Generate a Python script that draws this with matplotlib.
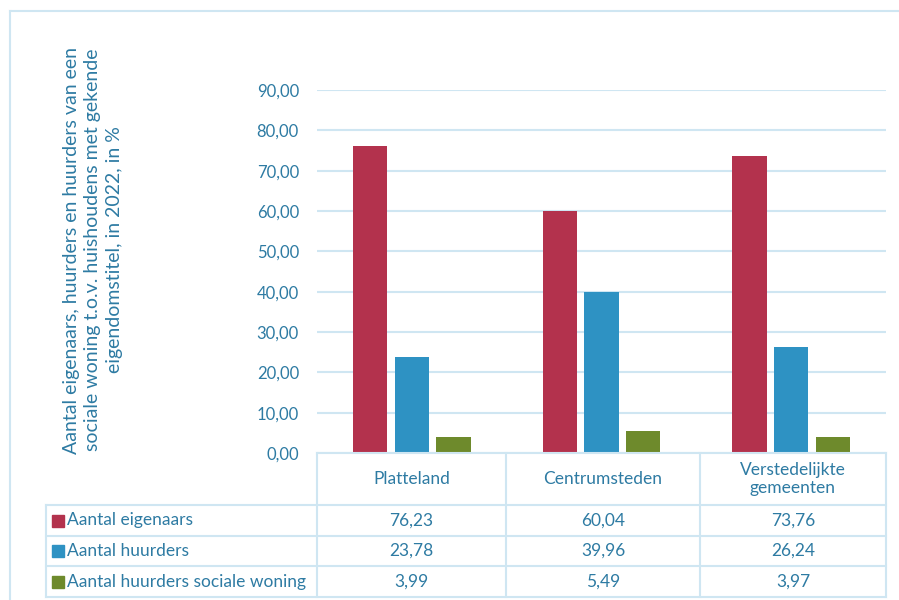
import matplotlib
matplotlib.use("Agg")
import matplotlib.pyplot as plt
from matplotlib.patches import Rectangle
from matplotlib.lines import Line2D

categories = ["Platteland", "Centrumsteden", "Verstedelijkte\ngemeenten"]
series_names = ["Aantal eigenaars", "Aantal huurders", "Aantal huurders sociale woning"]
eigenaars = [76.23, 60.04, 73.76]
huurders = [23.78, 39.96, 26.24]
sociale = [3.99, 5.49, 3.97]
yticks = [0, 10, 20, 30, 40, 50, 60, 70, 80, 90]
ylabel = "Aantal eigenaars, huurders en huurders van een\nsociale woning t.o.v. huishoudens met gekende\neigendomstitel, in 2022, in %"

colors = ["#B3324D", "#2E92C3", "#6E8A2C"]
text_col = "#2E7BA3"
grid_col = "#CFE6F2"
font = ["Lato", "DejaVu Sans"]
plt.rcParams["font.family"] = font

W, H = 899, 600
fig = plt.figure(figsize=(W / 100, H / 100), dpi=100)

def fx(x):
    return x / W

def fy(y):
    return 1 - y / H

# outer frame
fig.add_artist(Line2D([fx(10), fx(10)], [fy(11), fy(600)], color=grid_col, lw=1.5))
fig.add_artist(Line2D([fx(10), fx(899)], [fy(11), fy(11)], color=grid_col, lw=1.5))

L, R, T, B = 317, 886, 90, 453
ax = fig.add_axes([fx(L), fy(B), fx(R - L), (B - T) / H])
series = [eigenaars, huurders, sociale]
offsets = [-0.22, 0.0, 0.22]
bw = 0.18
x = list(range(len(categories)))
for vals, off, c in zip(series, offsets, colors):
    ax.bar([i + off for i in x], vals, width=bw, color=c, zorder=3)
ax.set_xlim(-0.5, len(categories) - 0.5)
ax.set_ylim(0, 90)
ax.set_yticks(yticks)
ax.set_yticklabels([f"{v:.2f}".replace(".", ",") for v in yticks], color=text_col, fontsize=12)
ax.set_xticks([])
ax.tick_params(axis="y", length=0, pad=13)
for s in ax.spines.values():
    s.set_visible(False)
ax.yaxis.grid(True, color=grid_col, lw=1.5, zorder=0)
ax.set_axisbelow(True)

fig.text(fx(93), fy(250), ylabel, rotation=90, ha="center", va="center",
         color=text_col, fontsize=14, linespacing=1.3, multialignment="center")

# data table
col_x = [46, 317, 506, 700, 886]
row_y = [453, 505, 536, 566, 597]
lw = 1.5
fig.add_artist(Line2D([fx(col_x[1]), fx(col_x[-1])], [fy(row_y[0])] * 2, color=grid_col, lw=lw))
for yy in row_y[1:]:
    fig.add_artist(Line2D([fx(col_x[0]), fx(col_x[-1])], [fy(yy)] * 2, color=grid_col, lw=lw))
fig.add_artist(Line2D([fx(col_x[0])] * 2, [fy(row_y[1]), fy(row_y[-1])], color=grid_col, lw=lw))
for xx in col_x[1:]:
    fig.add_artist(Line2D([fx(xx)] * 2, [fy(row_y[0]), fy(row_y[-1])], color=grid_col, lw=lw))

for j, cat in enumerate(categories):
    cx = (col_x[j + 1] + col_x[j + 2]) / 2
    cy = (row_y[0] + row_y[1]) / 2
    fig.text(fx(cx), fy(cy), cat, ha="center", va="center", color=text_col,
             fontsize=12.5, linespacing=1.2)

for i, (name, vals, c) in enumerate(zip(series_names, series, colors)):
    cy = (row_y[i + 1] + row_y[i + 2]) / 2
    fig.add_artist(Rectangle((fx(52), fy(cy + 6)), fx(12), 12 / H, color=c))
    fig.text(fx(67), fy(cy), name, ha="left", va="center", color=text_col, fontsize=12.5)
    for j, v in enumerate(vals):
        cx = (col_x[j + 1] + col_x[j + 2]) / 2
        fig.text(fx(cx), fy(cy), f"{v:.2f}".replace(".", ","), ha="center", va="center",
                 color=text_col, fontsize=12.5)

fig.savefig("out.png", dpi=100)
